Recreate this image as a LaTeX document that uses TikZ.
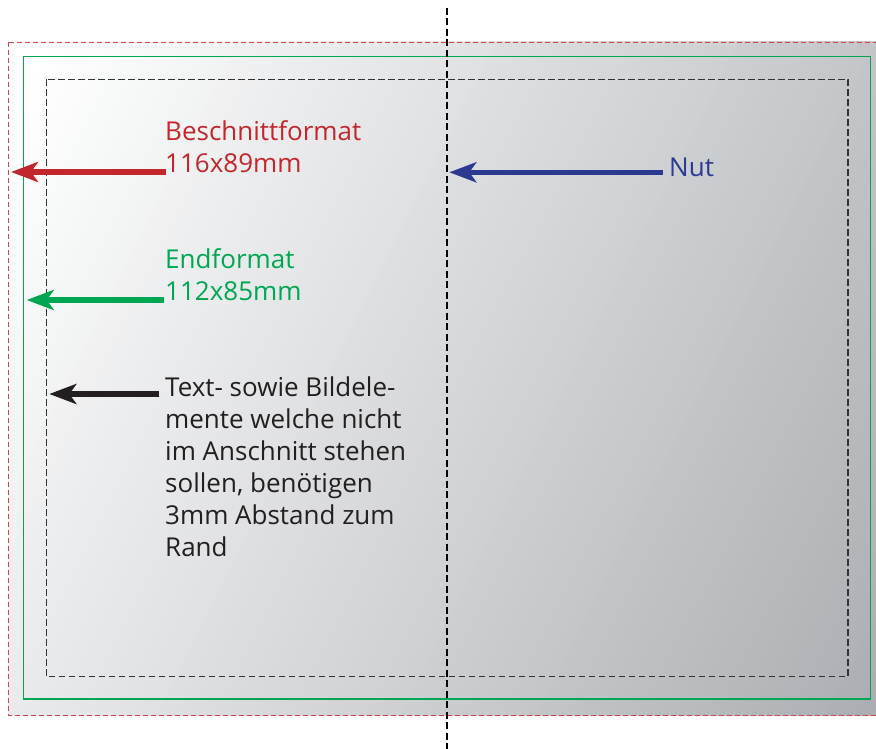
\documentclass[tikz,border=0pt]{standalone}
\usepackage{fontspec}
\setmainfont{Open Sans}
\usetikzlibrary{arrows.meta}
\definecolor{cutred}{RGB}{193,39,45}
\definecolor{endgreen}{RGB}{0,166,81}
\definecolor{nutblue}{RGB}{43,57,144}
\definecolor{textblack}{RGB}{35,31,32}
\definecolor{fillgray}{RGB}{168,172,176}
\begin{document}
\begin{tikzpicture}[x=1pt,y=-1pt,
  lbl/.style={font=\fontsize{26}{32}\selectfont, inner sep=0pt, anchor=base west, align=left},
  pointer/.style={line width=5.3pt, -{Stealth[length=27pt,width=20pt,inset=7pt]}},
  bleedbox/.style={cutred!85, line width=0.9pt, dash pattern=on 5pt off 3pt},
  trimbox/.style={endgreen, line width=1.4pt},
  safebox/.style={black!80, line width=1.1pt, dash pattern=on 6.5pt off 3.5pt},
  foldline/.style={black, line width=2.2pt, dash pattern=on 7pt off 3.5pt},
]
\useasboundingbox (0,0) rectangle (876,749);
% gradient background
\begin{scope}
  \clip (8,42) rectangle (880,715);
  \begin{scope}[shift={(30,200)},rotate=-26.7]
    \fill[white] (-800,-1500) rectangle (-60,1500);
    \foreach \i in {0,...,79} {
      \pgfmathsetmacro\sa{-62+\i*13.575}
      \pgfmathsetmacro\sb{\sa+15}
      \pgfmathsetmacro\pc{100*\i/79}
      \fill[fillgray!\pc!white] (\sa,-1500) rectangle (\sb,1500);
    }
    \fill[fillgray] (1010,-1500) rectangle (1800,1500);
  \end{scope}
\end{scope}
% frames
\draw[bleedbox] (8,42) rectangle (878,715);
\draw[trimbox] (23.7,56.7) rectangle (870.7,699);
\draw[safebox] (46.3,79.3) rectangle (848,676.7);
% labels
\node[lbl, text=cutred] (cuttext) at (165,172) {Beschnittformat\\116x89mm};
\node[lbl, text=endgreen] (endtext) at (165,300) {Endformat\\112x85mm};
\node[lbl, text=textblack] (safetext) at (165,556) {Text- sowie Bildele-\\mente welche nicht\\im Anschnitt stehen\\sollen, benötigen\\3mm Abstand zum\\Rand};
\node[lbl, text=nutblue] (nuttext) at (669,176.7) {Nut};
% arrows
\coordinate (cuttail) at (166,172);
\coordinate (cuttip) at (11,172);
\coordinate (endtail) at (164,300);
\coordinate (endtip) at (26.7,300);
\coordinate (safetail) at (159,394);
\coordinate (safetip) at (49.3,394);
\coordinate (nuttail) at (663,172.3);
\coordinate (nuttip) at (449.3,172.3);
\draw[pointer, cutred] (cuttail) -- (cuttip);
\draw[pointer, endgreen] (endtail) -- (endtip);
\draw[pointer, textblack] (safetail) -- (safetip);
% fold
\coordinate (foldtop) at (447,8);
\coordinate (foldbot) at (447,749);
\draw[foldline] (foldtop) -- (foldbot);
\draw[pointer, nutblue] (nuttail) -- (nuttip);
\end{tikzpicture}
\end{document}
